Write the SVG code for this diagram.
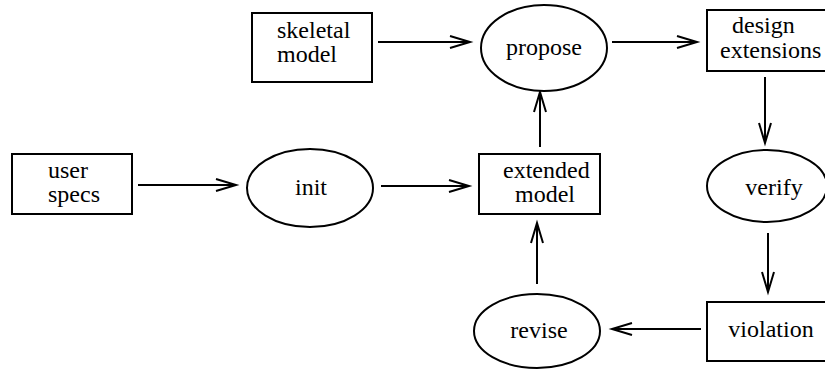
<svg xmlns="http://www.w3.org/2000/svg" width="825" height="372" viewBox="0 0 825 372">
<defs>
<style>
.n{fill:#fff;stroke:#000;stroke-width:2}
.c{fill:none;stroke:#000;stroke-width:2}
</style>
<marker id="ah" markerUnits="userSpaceOnUse" markerWidth="22" markerHeight="14" refX="20" refY="7" orient="auto" overflow="visible">
<path d="M0,1 L20,7 L0,13" fill="none" stroke="#000" stroke-width="2"/>
</marker>
</defs>
<rect width="825" height="372" fill="#fff"/>
<g id="connectors">
<line class="c" x1="378" y1="42" x2="470" y2="42" marker-end="url(#ah)"/>
<line class="c" x1="612" y1="42" x2="697" y2="42" marker-end="url(#ah)"/>
<line class="c" x1="765" y1="77" x2="765" y2="143" marker-end="url(#ah)"/>
<line class="c" x1="768" y1="233" x2="768" y2="292" marker-end="url(#ah)"/>
<line class="c" x1="701" y1="329" x2="612" y2="329" marker-end="url(#ah)"/>
<line class="c" x1="537" y1="284" x2="537" y2="223" marker-end="url(#ah)"/>
<line class="c" x1="540" y1="147" x2="540" y2="92" marker-end="url(#ah)"/>
<line class="c" x1="138" y1="185" x2="236" y2="185" marker-end="url(#ah)"/>
<line class="c" x1="381" y1="186" x2="469" y2="186" marker-end="url(#ah)"/>
</g>
<g font-family="Liberation Serif, Times New Roman, serif" font-size="24" fill="#000">
<g id="skeletal-model">
<rect class="n" x="252" y="13" width="120" height="69"/>
<text x="277" y="38">skeletal</text>
<text x="277" y="62">model</text>
</g>
<g id="propose">
<ellipse class="n" cx="544" cy="48" rx="63" ry="43"/>
<text x="544" y="55" text-anchor="middle">propose</text>
</g>
<g id="design-extensions">
<rect class="n" x="707" y="10" width="125" height="61"/>
<text x="732" y="33">design</text>
<text x="720" y="58">extensions</text>
</g>
<g id="user-specs">
<rect class="n" x="12" y="154" width="120" height="60"/>
<text x="48" y="178">user</text>
<text x="48" y="202">specs</text>
</g>
<g id="init">
<ellipse class="n" cx="310" cy="188" rx="63" ry="39"/>
<text x="311" y="195" text-anchor="middle">init</text>
</g>
<g id="extended-model">
<rect class="n" x="479" y="154" width="121" height="60"/>
<text x="503" y="178">extended</text>
<text x="515" y="202">model</text>
</g>
<g id="verify">
<ellipse class="n" cx="767" cy="186" rx="60" ry="36"/>
<text x="774" y="195" text-anchor="middle">verify</text>
</g>
<g id="violation">
<rect class="n" x="707" y="302" width="125" height="59"/>
<text x="771" y="337" text-anchor="middle">violation</text>
</g>
<g id="revise">
<ellipse class="n" cx="537" cy="331" rx="63" ry="37"/>
<text x="539" y="338" text-anchor="middle">revise</text>
</g>
</g>
</svg>
